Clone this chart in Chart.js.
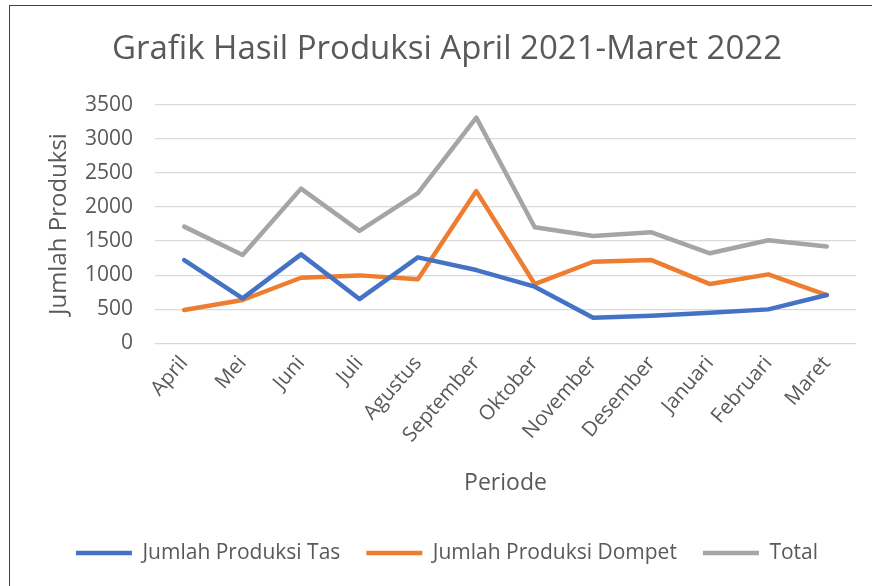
<!DOCTYPE html>
<html>
<head>
<meta charset="utf-8">
<script src="https://cdn.jsdelivr.net/npm/chart.js@4/dist/chart.umd.min.js"></script>
<style>
  html, body { margin: 0; padding: 0; background: #fff; }
  #wrap { position: relative; width: 872px; height: 586px; overflow: hidden; }
  #frame { position: absolute; left: 9px; top: 5px; width: 900px; height: 700px;
           border-left: 1.5px solid #404040; border-top: 1.5px solid #404040; }
  canvas { position: absolute; left: 0; top: 0; }
</style>
</head>
<body>
<div id="wrap">
  <div id="frame"></div>
  <canvas id="chart" width="872" height="586"></canvas>
</div>
<script>
const months = ["April", "Mei", "Juni", "Juli", "Agustus", "September", "Oktober",
  "November", "Desember", "Januari", "Februari", "Maret"];
const tas = [1222, 661, 1306, 651, 1262, 1076, 832, 378, 407, 451, 500, 710];
const dompet = [490, 637, 963, 998, 940, 2233, 871, 1198, 1222, 871, 1013, 710];
const total = [1712, 1298, 2269, 1649, 2202, 3309, 1703, 1576, 1629, 1322, 1513, 1420];

const textColor = "#595959";
const fontFamily = "'Open Sans', sans-serif";

// plot area in the reference: x 155..856, y 104.5..343.5
const PLOT_LEFT = 155;
const PLOT_BOTTOM = 343.5;
const PAD_LEFT = 38;
const PAD_BOTTOM = 12.5;

const ctx = document.getElementById("chart").getContext("2d");

function series(label, data, color) {
  return {
    label,
    data,
    borderColor: color,
    backgroundColor: color,
    borderWidth: 4.5,
    pointRadius: 0,
    pointHoverRadius: 0,
    tension: 0,
    borderJoinStyle: "round",
    borderCapStyle: "round",
    fill: false
  };
}

new Chart(ctx, {
  type: "line",
  data: {
    labels: months,
    datasets: [
      series("Jumlah Produksi Tas", tas, "#4472C4"),
      series("Jumlah Produksi Dompet", dompet, "#ED7D31"),
      series("Total", total, "#A5A5A5")
    ]
  },
  options: {
    responsive: false,
    animation: false,
    layout: { padding: { left: PAD_LEFT, right: 16, top: 0, bottom: PAD_BOTTOM } },
    scales: {
      x: {
        offset: true,
        grid: { display: false },
        border: { display: false },
        ticks: {
          color: textColor,
          font: { family: fontFamily, size: 20.5 },
          minRotation: 49,
          maxRotation: 49,
          padding: 0
        },
        title: {
          display: true,
          text: "Periode",
          color: textColor,
          font: { family: fontFamily, size: 23 },
          padding: { top: 0, bottom: 19 }
        },
        afterFit(scale) {
          const legendH = scale.chart.legend ? scale.chart.legend.height : 0;
          scale.height = 586 - PAD_BOTTOM - legendH - PLOT_BOTTOM;
        }
      },
      y: {
        min: 0,
        max: 3500,
        grid: { color: "#D9D9D9", lineWidth: 1.3, drawTicks: false },
        border: { display: false },
        ticks: {
          stepSize: 500,
          color: textColor,
          font: { family: fontFamily, size: 21 },
          padding: 22,
          callback: v => String(v)
        },
        title: {
          display: true,
          text: "Jumlah Produksi",
          color: textColor,
          font: { family: fontFamily, size: 24 },
          padding: { top: 45 - PAD_LEFT, bottom: 0 }
        },
        afterFit(scale) {
          scale.width = PLOT_LEFT - PAD_LEFT;
        }
      }
    },
    plugins: {
      title: {
        display: true,
        text: "Grafik Hasil Produksi April 2021-Maret 2022",
        color: textColor,
        font: { family: fontFamily, size: 33, weight: "normal" },
        padding: { top: 30, bottom: 35 }
      },
      legend: {
        position: "bottom",
        labels: {
          color: textColor,
          font: { family: fontFamily, size: 21 },
          usePointStyle: true,
          pointStyle: "line",
          pointStyleWidth: 56,
          padding: 26
        }
      },
      tooltip: { enabled: false }
    }
  }
});
</script>
</body>
</html>
